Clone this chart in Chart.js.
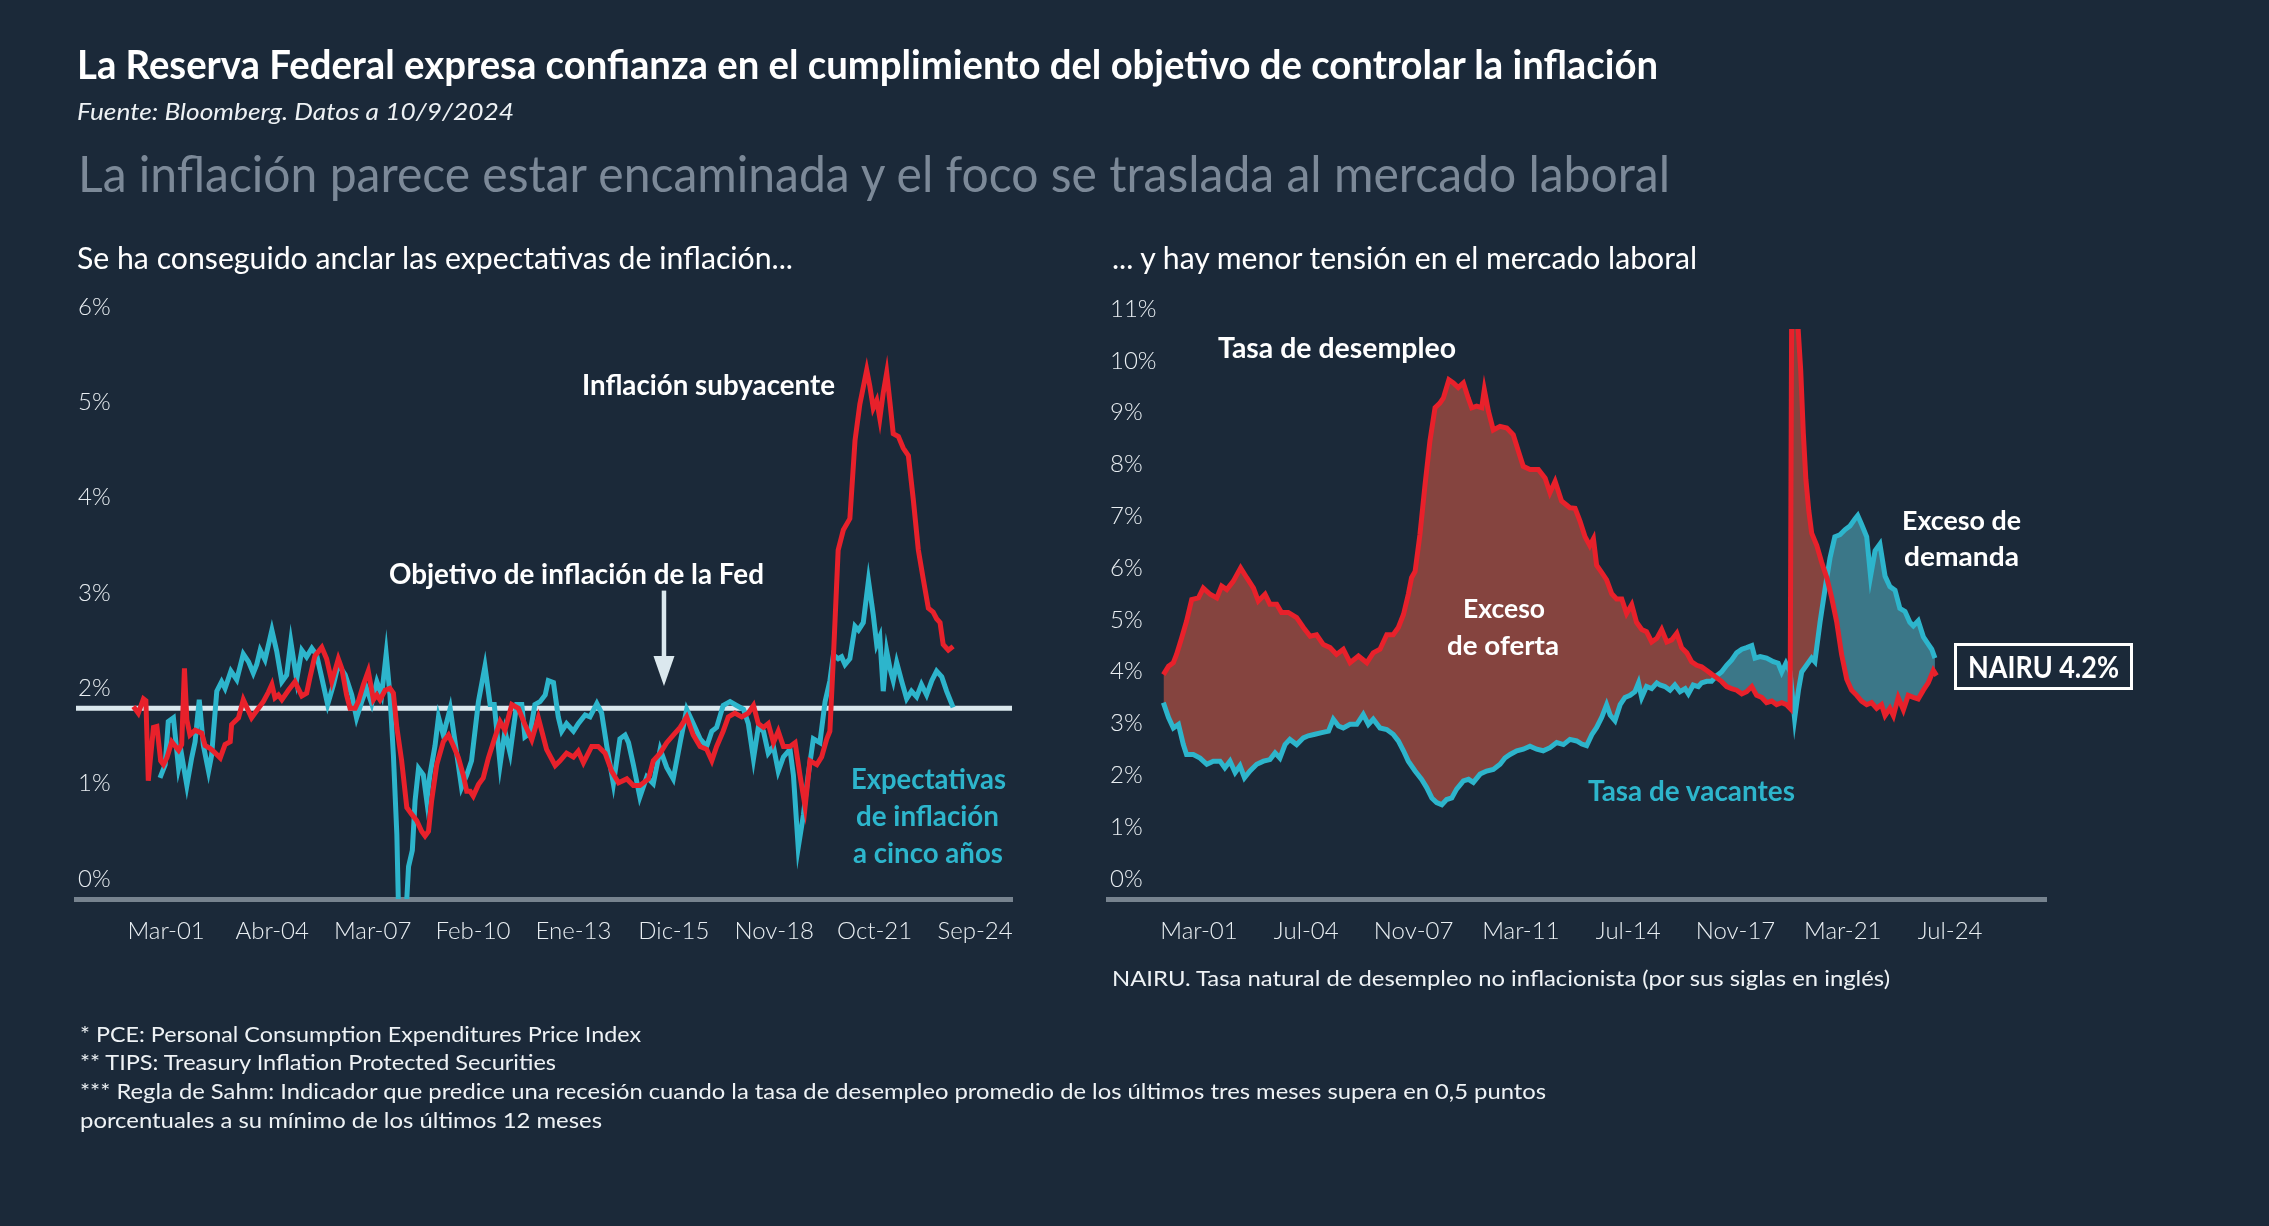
<!DOCTYPE html>
<html lang="es">
<head>
<meta charset="utf-8">
<title>La Reserva Federal y el objetivo de inflación</title>
<script src="https://cdn.jsdelivr.net/npm/chart.js@4.4.1/dist/chart.umd.min.js"></script>
<style>
  html, body { margin: 0; padding: 0; background: #1b2939; }
  body { width: 2269px; height: 1226px; position: relative; overflow: hidden; font-family: Lato, "Noto Sans", sans-serif; color: #fff; }
  canvas { position: absolute; left: 0; top: 0; z-index: 1; }
  .t { position: absolute; z-index: 2; white-space: nowrap; line-height: 1; transform-origin: 0 0; }
  .b { font-weight: 700; }
  .cian { color: #2db5cc; }
  .nota { font-size: 21px; color: #eef2f5; }
  #nairu { position: absolute; z-index: 2; left: 1954px; top: 643px; width: 179px; height: 47px; box-sizing: border-box; border: 3px solid #fff; }
</style>
</head>
<body>

<canvas id="izq" width="2269" height="1226"></canvas>
<canvas id="der" width="2269" height="1226"></canvas>

<div class="t b" data-w="1581" style="left:77px; top:44px; font-size:40px;">La Reserva Federal expresa confianza en el cumplimiento del objetivo de controlar la inflación</div>
<div class="t" data-w="437" style="left:77px; top:100px; font-size:23px; font-style:italic; color:#eef2f5;">Fuente: Bloomberg. Datos a 10/9/2024</div>
<div class="t" data-w="1592" style="left:78px; top:147px; font-size:51px; color:#7c8998;">La inflación parece estar encaminada y el foco se traslada al mercado laboral</div>
<div class="t" data-w="716" style="left:77px; top:242px; font-size:30px;">Se ha conseguido anclar las expectativas de inflación...</div>
<div class="t" data-w="585" style="left:1112px; top:242px; font-size:30px;">... y hay menor tensión en el mercado laboral</div>

<!-- anotaciones gráfico izquierdo -->
<div class="t b" data-w="253" style="left:582px; top:370px; font-size:28px;">Inflación subyacente</div>
<div class="t b" data-w="375" style="left:389px; top:559px; font-size:28px;">Objetivo de inflación de la Fed</div>
<div class="t b cian" data-w="155" style="left:851px; top:764px; font-size:28px;">Expectativas</div>
<div class="t b cian" data-w="143" style="left:856px; top:801px; font-size:28px;">de inflación</div>
<div class="t b cian" data-w="150" style="left:853px; top:838px; font-size:28px;">a cinco años</div>

<!-- anotaciones gráfico derecho -->
<div class="t b" data-w="238" style="left:1218px; top:333px; font-size:28px;">Tasa de desempleo</div>
<div class="t b" data-w="82" style="left:1463px; top:594px; font-size:27px;">Exceso</div>
<div class="t b" data-w="112" style="left:1447px; top:631px; font-size:27px;">de oferta</div>
<div class="t b cian" data-w="207" style="left:1588px; top:776px; font-size:28px;">Tasa de vacantes</div>
<div class="t b" data-w="119" style="left:1902px; top:506px; font-size:27px;">Exceso de</div>
<div class="t b" data-w="115" style="left:1904px; top:542px; font-size:27px;">demanda</div>
<div id="nairu"></div>
<div class="t b" data-w="151" style="left:1968px; top:651px; font-size:30px;">NAIRU 4.2%</div>

<div class="t nota" data-w="778" style="left:1112px; top:967px;">NAIRU. Tasa natural de desempleo no inflacionista (por sus siglas en inglés)</div>
<div class="t nota" data-w="561" style="left:80px; top:1023px;">* PCE: Personal Consumption Expenditures Price Index</div>
<div class="t nota" data-w="476" style="left:80px; top:1051px;">** TIPS: Treasury Inflation Protected Securities</div>
<div class="t nota" data-w="1466" style="left:80px; top:1080px;">*** Regla de Sahm: Indicador que predice una recesión cuando la tasa de desempleo promedio de los últimos tres meses supera en 0,5 puntos</div>
<div class="t nota" data-w="522" style="left:80px; top:1109px;">porcentuales a su mínimo de los últimos 12 meses</div>

<script>
// === DATOS ===

// [fecha (año decimal), valor %]
const pce = [
  [2000.22,2.02],[2000.36,1.95],[2000.51,2.10],[2000.58,2.08],[2000.65,1.24],[2000.80,1.80],[2000.90,1.81],
  [2001.01,1.45],[2001.09,1.41],[2001.19,1.48],[2001.33,1.65],[2001.53,1.56],[2001.62,1.62],[2001.70,2.42],
  [2001.77,1.88],[2001.86,1.72],[2002.01,1.77],[2002.20,1.74],[2002.30,1.61],[2002.44,1.58],[2002.54,1.55],
  [2002.74,1.48],[2002.88,1.62],[2003.03,1.65],[2003.07,1.83],[2003.27,1.90],[2003.41,2.09],[2003.65,1.90],
  [2003.85,2.00],[2003.99,2.07],[2004.14,2.17],[2004.24,2.25],[2004.33,2.11],[2004.43,2.14],[2004.53,2.09],
  [2004.72,2.19],[2004.91,2.28],[2005.11,2.13],[2005.25,2.16],[2005.35,2.33],[2005.49,2.55],[2005.69,2.64],
  [2005.83,2.52],[2005.98,2.28],[2006.17,2.52],[2006.27,2.42],[2006.41,2.14],[2006.51,2.00],[2006.66,2.00],
  [2006.75,2.07],[2006.90,2.25],[2007.04,2.39],[2007.19,2.09],[2007.29,2.14],[2007.38,2.09],[2007.53,2.19],
  [2007.67,2.21],[2007.77,2.16],[2007.87,1.80],[2008.01,1.45],[2008.16,0.96],[2008.30,0.89],[2008.45,0.82],
  [2008.59,0.71],[2008.69,0.66],[2008.79,0.71],[2008.88,1.03],[2009.03,1.41],[2009.22,1.65],[2009.37,1.72],
  [2009.51,1.61],[2009.66,1.48],[2009.80,1.30],[2009.90,1.13],[2010.00,1.13],[2010.09,1.08],[2010.24,1.20],
  [2010.38,1.27],[2010.53,1.48],[2010.67,1.64],[2010.87,1.86],[2011.01,1.77],[2011.21,2.04],[2011.40,2.00],
  [2011.59,1.83],[2011.79,1.67],[2011.98,1.90],[2012.22,1.57],[2012.47,1.40],[2012.61,1.45],[2012.80,1.53],
  [2013.00,1.49],[2013.14,1.55],[2013.29,1.43],[2013.53,1.60],[2013.72,1.60],[2013.92,1.53],[2014.11,1.34],
  [2014.31,1.22],[2014.55,1.26],[2014.74,1.19],[2014.93,1.19],[2015.18,1.26],[2015.32,1.45],[2015.52,1.53],
  [2015.71,1.64],[2015.90,1.72],[2016.10,1.80],[2016.29,1.91],[2016.48,1.72],[2016.68,1.60],[2016.87,1.57],
  [2017.02,1.45],[2017.16,1.60],[2017.35,1.76],[2017.50,1.91],[2017.69,1.95],[2017.89,1.91],[2018.08,1.95],
  [2018.23,2.03],[2018.37,1.84],[2018.52,1.80],[2018.66,1.84],[2018.81,1.64],[2018.95,1.76],[2019.10,1.60],
  [2019.29,1.60],[2019.44,1.64],[2019.58,1.30],[2019.73,0.97],[2019.87,1.45],[2020.07,1.41],[2020.21,1.49],
  [2020.36,1.68],[2020.45,1.76],[2020.55,2.52],[2020.69,3.66],[2020.84,3.87],[2021.03,3.99],[2021.18,4.81],
  [2021.32,5.19],[2021.52,5.55],[2021.61,5.38],[2021.71,5.15],[2021.81,5.23],[2021.90,5.04],[2022.00,5.31],
  [2022.10,5.52],[2022.20,5.19],[2022.29,4.88],[2022.44,4.85],[2022.58,4.73],[2022.73,4.65],[2022.87,4.20],
  [2023.02,3.66],[2023.16,3.36],[2023.31,3.05],[2023.45,3.01],[2023.55,2.94],[2023.65,2.90],[2023.74,2.67],
  [2023.89,2.61],[2024.03,2.65]
];

const tips = [
  [2000.99,1.27],[2001.14,1.41],[2001.23,1.86],[2001.38,1.90],[2001.53,1.37],[2001.62,1.51],[2001.77,1.19],
  [2001.91,1.48],[2002.01,1.65],[2002.13,2.09],[2002.25,1.61],[2002.40,1.34],[2002.49,1.51],[2002.64,2.18],
  [2002.78,2.28],[2002.88,2.21],[2003.05,2.39],[2003.22,2.30],[2003.41,2.57],[2003.56,2.49],[2003.70,2.37],
  [2003.80,2.46],[2003.90,2.61],[2004.04,2.51],[2004.24,2.82],[2004.38,2.60],[2004.53,2.28],[2004.67,2.35],
  [2004.79,2.70],[2004.96,2.30],[2005.11,2.61],[2005.25,2.54],[2005.40,2.63],[2005.54,2.56],[2005.69,2.32],
  [2005.86,2.04],[2006.03,2.25],[2006.17,2.46],[2006.37,2.35],[2006.56,2.14],[2006.70,1.90],[2006.85,2.07],
  [2006.99,2.21],[2007.14,2.05],[2007.29,2.28],[2007.43,2.14],[2007.56,2.57],[2007.67,2.14],[2007.77,1.51],
  [2007.87,0.68],[2007.95,-0.6],[2008.07,-0.6],[2008.21,0.34],[2008.32,0.51],[2008.40,1.03],[2008.50,1.37],
  [2008.64,1.30],[2008.74,1.03],[2008.83,1.30],[2008.98,1.61],[2009.08,1.91],[2009.22,1.72],[2009.42,2.00],
  [2009.56,1.65],[2009.75,1.17],[2009.90,1.30],[2010.04,1.45],[2010.24,2.07],[2010.43,2.44],[2010.58,2.04],
  [2010.70,2.04],[2010.87,1.41],[2011.01,1.76],[2011.16,1.53],[2011.35,2.04],[2011.50,2.04],[2011.59,1.70],
  [2011.74,1.74],[2011.88,2.04],[2012.03,2.07],[2012.18,2.14],[2012.27,2.29],[2012.42,2.27],[2012.56,1.91],
  [2012.66,1.76],[2012.80,1.84],[2013.00,1.76],[2013.14,1.84],[2013.34,1.93],[2013.48,1.91],[2013.68,2.05],
  [2013.82,1.95],[2013.97,1.60],[2014.16,1.21],[2014.35,1.68],[2014.50,1.72],[2014.60,1.64],[2014.74,1.41],
  [2014.93,1.07],[2015.13,1.28],[2015.32,1.21],[2015.52,1.57],[2015.71,1.38],[2015.90,1.26],[2016.10,1.64],
  [2016.29,1.99],[2016.48,1.84],[2016.68,1.68],[2016.87,1.60],[2017.02,1.76],[2017.16,1.80],[2017.35,2.03],
  [2017.55,2.07],[2017.74,2.03],[2017.94,1.99],[2018.08,1.84],[2018.23,1.47],[2018.37,1.80],[2018.52,1.76],
  [2018.66,1.53],[2018.81,1.60],[2018.95,1.34],[2019.10,1.49],[2019.29,1.57],[2019.39,1.30],[2019.53,0.54],
  [2019.68,0.88],[2019.82,1.30],[2019.97,1.68],[2020.16,1.64],[2020.31,2.07],[2020.45,2.29],[2020.55,2.56],
  [2020.69,2.52],[2020.79,2.54],[2020.89,2.46],[2021.03,2.52],[2021.18,2.86],[2021.28,2.82],[2021.42,2.90],
  [2021.57,3.34],[2021.71,2.98],[2021.81,2.67],[2021.90,2.75],[2022.00,2.18],[2022.10,2.60],[2022.20,2.41],
  [2022.29,2.29],[2022.39,2.48],[2022.53,2.29],[2022.68,2.10],[2022.82,2.18],[2022.97,2.12],[2023.11,2.25],
  [2023.26,2.14],[2023.41,2.29],[2023.55,2.39],[2023.70,2.33],[2023.84,2.18],[2024.03,2.01]
];

const objetivoFed = 2;

const desempleo = [
  [2000.06,4.33],[2000.22,4.49],[2000.37,4.56],[2000.47,4.72],[2000.63,5.04],[2000.78,5.36],[2000.94,5.78],
  [2001.15,5.81],[2001.30,6.00],[2001.51,5.88],[2001.72,5.81],[2001.87,6.04],[2002.03,5.97],[2002.23,6.13],
  [2002.46,6.39],[2002.65,6.20],[2002.86,6.00],[2003.01,5.75],[2003.22,5.88],[2003.37,5.69],[2003.58,5.69],
  [2003.73,5.53],[2003.94,5.53],[2004.20,5.43],[2004.41,5.24],[2004.62,5.07],[2004.82,5.10],[2005.03,4.91],
  [2005.24,4.85],[2005.44,4.72],[2005.65,4.82],[2005.86,4.56],[2006.12,4.69],[2006.38,4.56],[2006.58,4.75],
  [2006.79,4.82],[2007.00,5.10],[2007.20,5.10],[2007.36,5.24],[2007.52,5.49],[2007.67,5.88],[2007.77,6.20],
  [2007.88,6.32],[2008.03,7.03],[2008.19,8.00],[2008.34,8.83],[2008.50,9.48],[2008.65,9.57],[2008.76,9.67],
  [2008.93,10.02],[2009.07,9.96],[2009.22,9.87],[2009.38,9.96],[2009.53,9.67],[2009.64,9.48],[2009.79,9.51],
  [2009.95,9.48],[2010.03,9.83],[2010.16,9.41],[2010.31,9.05],[2010.52,9.12],[2010.73,9.09],[2010.93,8.96],
  [2011.09,8.64],[2011.24,8.35],[2011.45,8.29],[2011.71,8.29],[2011.92,8.12],[2012.07,7.84],[2012.23,8.06],
  [2012.43,7.68],[2012.69,7.55],[2012.85,7.54],[2013.00,7.30],[2013.16,6.99],[2013.31,6.82],[2013.42,6.95],
  [2013.52,6.44],[2013.68,6.30],[2013.83,6.16],[2013.99,5.89],[2014.14,5.79],[2014.30,5.79],[2014.45,5.51],
  [2014.61,5.68],[2014.76,5.34],[2014.92,5.20],[2015.07,5.16],[2015.23,4.96],[2015.39,5.03],[2015.54,5.20],
  [2015.70,4.96],[2015.85,5.00],[2016.01,5.13],[2016.16,4.85],[2016.32,4.75],[2016.47,4.58],[2016.63,4.51],
  [2016.78,4.48],[2016.94,4.41],[2017.09,4.34],[2017.25,4.27],[2017.40,4.20],[2017.56,4.10],[2017.71,4.06],
  [2017.87,4.03],[2018.03,3.96],[2018.18,4.00],[2018.34,4.10],[2018.49,3.93],[2018.65,3.89],[2018.80,3.79],
  [2018.96,3.82],[2019.11,3.75],[2019.27,3.79],[2019.42,3.75],[2019.53,3.68],[2019.60,14.7],[2019.68,13.2],
  [2019.77,11.1],[2019.86,10.2],[2019.94,9.0],[2020.02,8.1],[2020.11,7.5],[2020.20,7.06],[2020.36,6.82],
  [2020.51,6.50],[2020.67,6.20],[2020.82,5.82],[2020.98,5.34],[2021.13,4.72],[2021.29,4.24],[2021.44,4.03],
  [2021.60,3.93],[2021.75,3.82],[2021.91,3.75],[2022.06,3.79],[2022.22,3.68],[2022.37,3.75],[2022.48,3.54],
  [2022.63,3.68],[2022.74,3.54],[2022.89,3.89],[2023.05,3.65],[2023.20,3.93],[2023.36,3.89],[2023.51,3.86],
  [2023.67,4.03],[2023.82,4.17],[2023.98,4.41],[2024.08,4.31]
];

const vacantes = [
  [2000.06,3.79],[2000.22,3.50],[2000.37,3.30],[2000.53,3.37],[2000.68,2.98],[2000.78,2.79],[2000.99,2.79],
  [2001.20,2.72],[2001.41,2.60],[2001.61,2.66],[2001.82,2.66],[2001.97,2.53],[2002.13,2.66],[2002.29,2.44],
  [2002.44,2.57],[2002.58,2.34],[2002.75,2.47],[2002.96,2.60],[2003.17,2.66],[2003.37,2.69],[2003.53,2.82],
  [2003.68,2.72],[2003.84,2.98],[2003.99,3.08],[2004.20,2.98],[2004.41,3.11],[2004.56,3.15],[2004.77,3.18],
  [2004.98,3.21],[2005.19,3.24],[2005.34,3.47],[2005.50,3.34],[2005.65,3.30],[2005.86,3.37],[2006.07,3.37],
  [2006.27,3.56],[2006.43,3.37],[2006.58,3.47],[2006.79,3.30],[2007.00,3.27],[2007.20,3.18],[2007.36,3.05],
  [2007.52,2.86],[2007.67,2.66],[2007.88,2.47],[2008.08,2.31],[2008.24,2.15],[2008.40,1.95],[2008.55,1.86],
  [2008.71,1.82],[2008.86,1.92],[2009.02,1.95],[2009.17,2.12],[2009.38,2.28],[2009.54,2.31],[2009.69,2.25],
  [2009.90,2.41],[2010.10,2.47],[2010.31,2.50],[2010.52,2.60],[2010.67,2.72],[2010.83,2.79],[2011.04,2.86],
  [2011.24,2.89],[2011.45,2.95],[2011.66,2.89],[2011.86,2.86],[2012.07,2.92],[2012.28,3.02],[2012.49,2.98],
  [2012.69,3.08],[2012.90,3.05],[2013.06,2.99],[2013.21,2.96],[2013.37,3.17],[2013.52,3.31],[2013.68,3.51],
  [2013.83,3.75],[2013.94,3.55],[2014.09,3.44],[2014.25,3.75],[2014.40,3.89],[2014.56,3.93],[2014.71,4.00],
  [2014.82,4.17],[2014.92,3.89],[2015.07,4.10],[2015.23,4.06],[2015.39,4.17],[2015.49,4.13],[2015.64,4.10],
  [2015.80,4.03],[2015.95,4.13],[2016.11,4.00],[2016.27,4.06],[2016.37,3.96],[2016.52,4.13],[2016.68,4.10],
  [2016.78,4.17],[2016.94,4.20],[2017.09,4.20],[2017.25,4.31],[2017.40,4.38],[2017.56,4.51],[2017.71,4.61],
  [2017.87,4.75],[2018.03,4.82],[2018.18,4.85],[2018.34,4.89],[2018.44,4.65],[2018.60,4.68],[2018.80,4.65],
  [2019.01,4.58],[2019.16,4.55],[2019.27,4.38],[2019.40,4.55],[2019.53,4.38],[2019.67,3.48],[2019.79,4.03],
  [2019.89,4.38],[2020.04,4.51],[2020.20,4.65],[2020.30,4.58],[2020.46,5.34],[2020.61,5.96],[2020.77,6.58],
  [2020.92,6.99],[2021.08,7.03],[2021.24,7.13],[2021.39,7.20],[2021.55,7.34],[2021.63,7.40],[2021.75,7.23],
  [2021.91,6.99],[2022.03,6.23],[2022.17,6.72],[2022.32,6.85],[2022.48,6.23],[2022.63,6.03],[2022.79,5.96],
  [2022.94,5.61],[2023.10,5.55],[2023.25,5.34],[2023.36,5.27],[2023.51,5.37],[2023.67,5.06],[2023.82,4.92],
  [2023.93,4.82],[2024.03,4.65]
];

// etiquetas del eje X (mes-año)
const etiquetasIzq = ["Mar-01", "Abr-04", "Mar-07", "Feb-10", "Ene-13", "Dic-15", "Nov-18", "Oct-21", "Sep-24"];
const etiquetasDer = ["Mar-01", "Jul-04", "Nov-07", "Mar-11", "Jul-14", "Nov-17", "Mar-21", "Jul-24"];

// === ESTILO ===

const rojo = "#e8212b";
const cian = "#2db5cc";
const blancoFed = "#dbe8ee";
const grisEje = "#77838f";
const colorTexto = "#e9eef2";
const fuenteEjes = { family: "Lato", size: 24, weight: "300" };

// extremos de los ejes X en años
const xMinIzq = 1998.55, xMaxIzq = 2025.74;
const xMinDer = 1998.34, xMaxDer = 2027.48;

const meses = { Ene: 0, Feb: 1, Mar: 2, Abr: 3, May: 4, Jun: 5, Jul: 6, Ago: 7, Sep: 8, Oct: 9, Nov: 10, Dic: 11 };

function fechaDeEtiqueta(txt) {
  const [m, a] = txt.split("-");
  return 2000 + Number(a) + meses[m] / 12;
}

const aPuntos = serie => serie.map(([x, y]) => ({ x, y }));

// === TEXTOS ===

document.querySelectorAll("[data-w]").forEach(el => {
  const w = el.getBoundingClientRect().width;
  el.style.transform = "scaleX(" + (Number(el.dataset.w) / w) + ")";
});

// === EJES COMUNES ===

function ejeX(min, max, etiquetas) {
  const posiciones = etiquetas.map(fechaDeEtiqueta);
  return {
    type: "linear",
    min, max,
    z: 1,
    grid: { display: false, drawTicks: false },
    border: { display: true, color: grisEje, width: 5 },
    afterBuildTicks: axis => { axis.ticks = posiciones.map(v => ({ value: v })); },
    afterFit: axis => { axis.height = 100; },
    ticks: {
      autoSkip: false,
      maxRotation: 0,
      padding: 18,
      color: colorTexto,
      font: fuenteEjes,
      callback: (v, i) => etiquetas[i]
    }
  };
}

function ejeY(max) {
  return {
    min: 0,
    max,
    grid: { display: false, drawTicks: false },
    border: { display: false },
    afterFit: axis => { axis.width = 0; },
    ticks: {
      stepSize: 1,
      mirror: true,
      padding: 2,
      labelOffset: -20,
      color: colorTexto,
      font: fuenteEjes,
      callback: v => v + "%"
    }
  };
}

// flecha hacia la línea del objetivo
const flecha = {
  id: "flecha",
  afterDatasetsDraw(chart) {
    const { ctx, scales: { x, y } } = chart;
    const px = x.getPixelForValue(2015.63);
    const y0 = y.getPixelForValue(3.235);
    const y1 = y.getPixelForValue(2.234);
    ctx.save();
    ctx.strokeStyle = blancoFed;
    ctx.fillStyle = blancoFed;
    ctx.lineWidth = 4.5;
    ctx.beginPath();
    ctx.moveTo(px, y0);
    ctx.lineTo(px, y1 - 28);
    ctx.stroke();
    ctx.beginPath();
    ctx.moveTo(px - 10.5, y1 - 30);
    ctx.lineTo(px + 10.5, y1 - 30);
    ctx.lineTo(px, y1);
    ctx.closePath();
    ctx.fill();
    ctx.restore();
  }
};

const baseLinea = { pointRadius: 0, borderWidth: 5, tension: 0, fill: false };

// === GRÁFICO IZQUIERDO ===

new Chart(document.getElementById("izq"), {
  type: "line",
  data: {
    datasets: [
      { ...baseLinea, label: "Inflación subyacente", data: aPuntos(pce), borderColor: rojo },
      { ...baseLinea, label: "Expectativas de inflación a cinco años", data: aPuntos(tips), borderColor: cian },
      { ...baseLinea, label: "Objetivo de inflación de la Fed", borderColor: blancoFed,
        data: [{ x: xMinIzq, y: objetivoFed }, { x: xMaxIzq, y: objetivoFed }] }
    ]
  },
  options: {
    responsive: false,
    animation: false,
    layout: { padding: { left: 76, right: 2269 - 1012, top: 327, bottom: 1226 - 899 - 100 } },
    plugins: { legend: { display: false }, tooltip: { enabled: false } },
    scales: { x: ejeX(xMinIzq, xMaxIzq, etiquetasIzq), y: ejeY(6) }
  },
  plugins: [flecha]
});

// === GRÁFICO DERECHO ===

new Chart(document.getElementById("der"), {
  type: "line",
  data: {
    datasets: [
      { ...baseLinea, label: "Tasa de desempleo", data: aPuntos(desempleo), borderColor: rojo,
        fill: { target: 1, above: "#85443f", below: "#3b7788" } },
      { ...baseLinea, label: "Tasa de vacantes", data: aPuntos(vacantes), borderColor: cian }
    ]
  },
  options: {
    responsive: false,
    animation: false,
    layout: { padding: { left: 1108, right: 2269 - 2046, top: 329, bottom: 1226 - 899 - 100 } },
    plugins: {
      legend: { display: false },
      tooltip: { enabled: false },
      filler: { drawTime: "beforeDatasetsDraw", propagate: false }
    },
    scales: { x: ejeX(xMinDer, xMaxDer, etiquetasDer), y: ejeY(11) }
  }
});
</script>
</body>
</html>
